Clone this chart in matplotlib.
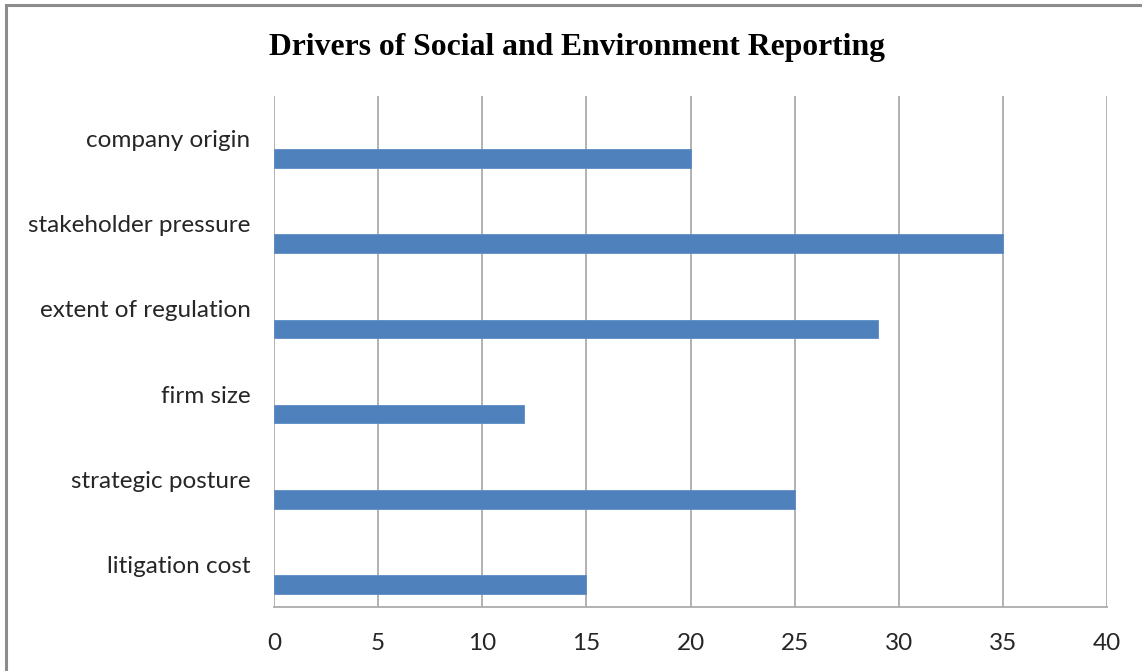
import matplotlib
matplotlib.use("Agg")
import matplotlib.pyplot as plt
import matplotlib.patches as mpatches
import numpy as np

# Survey counts per reporting driver (top to bottom)
drivers = [
    "company origin",
    "stakeholder pressure",
    "extent of regulation",
    "firm size",
    "strategic posture",
    "litigation cost",
]
counts = [20, 35, 29, 12, 25, 15]
x_ticks = [0, 5, 10, 15, 20, 25, 30, 35, 40]

BAR_BLUE = "#4F81BD"
GRID_GREY = "#ABABAB"
TEXT_GREY = "#262626"

fig = plt.figure(figsize=(11.42, 6.71), dpi=100)
fig.patch.set_facecolor("white")

# Outer chart-area frame (left and top edges show)
frame = mpatches.Rectangle(
    (6 / 1142, -0.5), 2.0, 1.5 - 5 / 671,
    transform=fig.transFigure, fill=False,
    edgecolor="#8C8C8C", linewidth=2.2, zorder=0,
)
fig.patches.append(frame)

ax = fig.add_axes([274 / 1142, 1 - 607 / 671, (1107 - 274) / 1142, (607 - 96) / 671])

pos = np.arange(len(drivers))
# bar sits in the lower part of each category band, label at band centre
ax.barh(pos + 0.235, counts, height=0.22, color=BAR_BLUE,
        edgecolor="#5B8CC6", linewidth=0.6, zorder=3)

ax.set_xlim(0, 40)
ax.set_ylim(len(drivers) - 0.5, -0.5)
ax.set_xticks(x_ticks)
ax.set_yticks(pos)
ax.set_yticklabels(drivers)

ax.grid(axis="x", color=GRID_GREY, linewidth=1.3, zorder=1)
ax.set_axisbelow(True)
for side in ("top", "right", "left"):
    ax.spines[side].set_visible(False)
ax.spines["bottom"].set_color(GRID_GREY)
ax.spines["bottom"].set_linewidth(1.3)

ax.tick_params(axis="both", length=0, colors=TEXT_GREY)
ax.tick_params(axis="y", pad=17)
ax.tick_params(axis="x", pad=19)
for lbl in ax.get_yticklabels() + ax.get_xticklabels():
    lbl.set_fontfamily("Lato")
    lbl.set_fontsize(17.5)
    lbl.set_color(TEXT_GREY)

fig.text(577 / 1142, 1 - 47 / 671, "Drivers of Social and Environment Reporting",
         ha="center", va="center", fontsize=22.8, fontweight="bold",
         family="Liberation Serif", color="black")

fig.savefig("out.png", dpi=100, facecolor=fig.get_facecolor())
